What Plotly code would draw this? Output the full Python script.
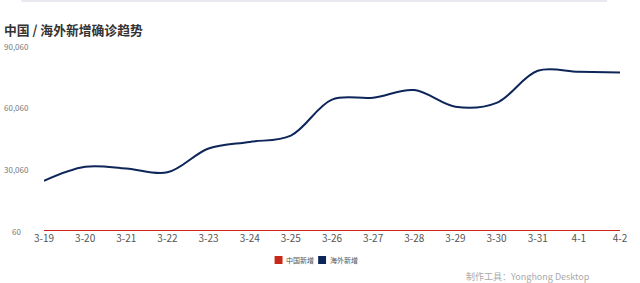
import plotly.graph_objects as go

dates = ["3-19", "3-20", "3-21", "3-22", "3-23", "3-24", "3-25", "3-26",
         "3-27", "3-28", "3-29", "3-30", "3-31", "4-1", "4-2"]
china_new = [80, 60, 50, 40, 70, 50, 60, 60, 50, 50, 40, 50, 50, 40, 60]
overseas_new = [24500, 31300, 30500, 28600, 40200, 43400, 46500, 64000,
                64900, 68600, 60500, 62400, 78000, 77500, 77200]
ytick_vals = [60, 30060, 60060, 90060]
ytick_text = ["60", "30,060", "60,060", "90,060"]
series_names = ["中国新增", "海外新增"]
colors = ["#c8281a", "#0d2558"]

W, H = 640, 283
ML, MR, MT, MB = 44, 14, 46, 52
PW = W - ML - MR
PH = H - MT - MB
FONT = "Noto Sans CJK SC, Noto Sans, sans-serif"

def px(xp):
    return (xp - ML) / PW

def py(yp):
    return (H - MB - yp) / PH

fig = go.Figure()
fig.add_trace(go.Scatter(x=dates, y=china_new, mode="lines", name=series_names[0],
                         line=dict(color=colors[0], width=2, shape="spline"),
                         showlegend=False))
fig.add_trace(go.Scatter(x=dates, y=overseas_new, mode="lines", name=series_names[1],
                         line=dict(color=colors[1], width=2, shape="spline", smoothing=1),
                         showlegend=False))

annotations = []
for v, t in zip(ytick_vals, ytick_text):
    annotations.append(dict(x=px(16), y=v, xref="paper", yref="y", text=t,
                            showarrow=False, xanchor="center", yanchor="middle",
                            font=dict(size=8, color="#777", family=FONT)))

# title
annotations.append(dict(x=px(2), y=py(29), xref="paper", yref="paper",
                        text="<b>中国 / 海外新增确诊趋势</b>", showarrow=False,
                        xanchor="left", yanchor="middle",
                        font=dict(size=12.8, color="#333", family=FONT)))
# watermark
annotations.append(dict(x=px(598), y=py(276), xref="paper", yref="paper",
                        text="制作工具：Yonghong Desktop", showarrow=False,
                        xanchor="right", yanchor="middle",
                        font=dict(size=9, color="#aaa", family=FONT)))

shapes = []
# legend
leg = [(277, 287), (321, 331)]
for (sx, tx), name, c in zip(leg, series_names, colors):
    shapes.append(dict(type="rect", xref="paper", yref="paper",
                       x0=px(sx), x1=px(sx + 8), y0=py(264), y1=py(256),
                       fillcolor=c, line=dict(width=0)))
    annotations.append(dict(x=px(tx), y=py(260), xref="paper", yref="paper",
                            text=name, showarrow=False, xanchor="left", yanchor="middle",
                            font=dict(size=7, color="#555", family=FONT)))
# top strip
shapes.append(dict(type="rect", xref="paper", yref="paper",
                   x0=px(21), x1=px(613), y0=py(2), y1=py(0),
                   fillcolor="#e8e8ee", line=dict(width=0)))

fig.update_layout(
    width=W, height=H,
    margin=dict(l=ML, r=MR, t=MT, b=MB),
    paper_bgcolor="white", plot_bgcolor="white",
    showlegend=False,
    font=dict(family=FONT),
    xaxis=dict(type="category", range=[0, len(dates) - 1], showgrid=False,
               zeroline=False, showline=False, ticks="",
               tickfont=dict(size=10, color="#555", family=FONT)),
    yaxis=dict(range=[60, 90060], showgrid=False, zeroline=False, showline=False,
               showticklabels=False, tickvals=ytick_vals),
    annotations=annotations,
    shapes=shapes,
)

fig.write_html("out.html")
